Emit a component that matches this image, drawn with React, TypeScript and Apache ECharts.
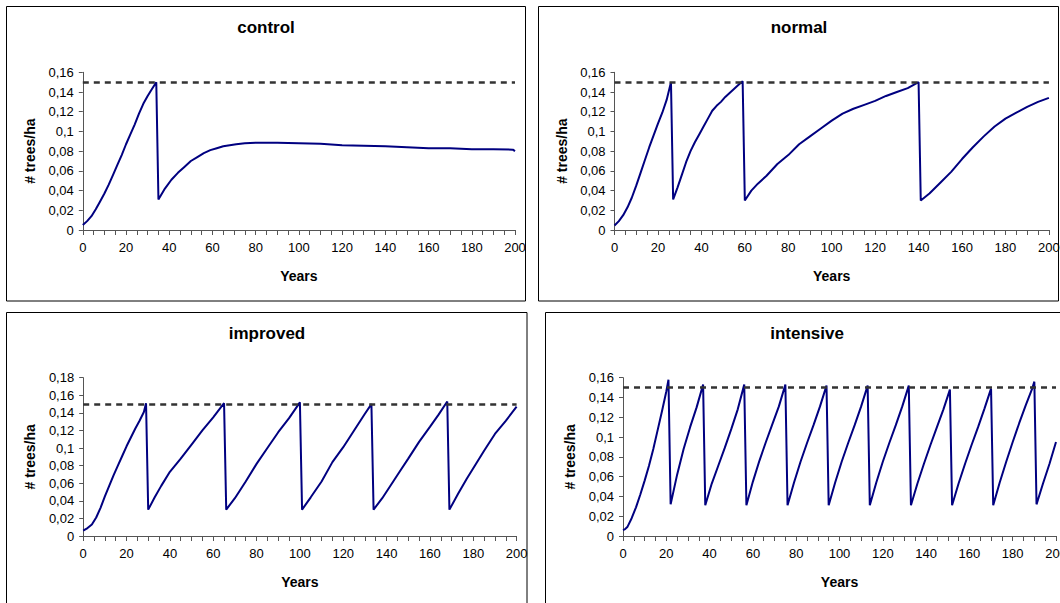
import React, { useEffect, useRef } from 'react';
import * as echarts from 'echarts';

const panelTitles = ['control', 'normal', 'improved', 'intensive'];
const yMaxima = [0.16, 0.16, 0.18, 0.16];
const threshold = 0.15;
const xAxisTitle = 'Years';
const yAxisTitle = '# trees/ha';

const controlYears = [0, 2, 4, 6, 8, 10, 12, 14, 16, 18, 20, 22, 24, 26, 28, 30, 32, 34, 35, 38, 41, 44, 47, 50, 53, 56, 59, 62, 65, 68, 71, 75, 80, 90, 100, 110, 120, 130, 140, 150, 160, 170, 180, 190, 199, 200];
const controlValues = [0.005, 0.009, 0.014, 0.021, 0.029, 0.037, 0.046, 0.056, 0.066, 0.076, 0.087, 0.097, 0.107, 0.118, 0.128, 0.136, 0.143, 0.15, 0.031, 0.042, 0.051, 0.058, 0.064, 0.07, 0.074, 0.078, 0.081, 0.083, 0.085, 0.086, 0.087, 0.088, 0.0885, 0.0885, 0.088, 0.0875, 0.086, 0.0855, 0.085, 0.084, 0.083, 0.083, 0.082, 0.082, 0.0815, 0.08];

const normalYears = [0, 2, 4, 6, 8, 10, 12, 14, 16, 18, 20, 22, 24, 26, 27, 29, 31, 33, 35, 37, 39, 41, 43, 45, 47, 49, 51, 53, 55, 57, 59, 60, 63, 66, 70, 75, 80, 85, 90, 95, 100, 105, 110, 115, 120, 125, 130, 135, 140, 141, 145, 150, 155, 160, 165, 170, 175, 180, 185, 190, 195, 200];
const normalValues = [0.0045, 0.009, 0.015, 0.023, 0.033, 0.045, 0.058, 0.071, 0.084, 0.096, 0.108, 0.119, 0.132, 0.15, 0.031, 0.043, 0.056, 0.069, 0.08, 0.089, 0.097, 0.105, 0.113, 0.121, 0.126, 0.13, 0.135, 0.139, 0.143, 0.147, 0.151, 0.03, 0.04, 0.047, 0.055, 0.067, 0.076, 0.087, 0.095, 0.103, 0.111, 0.118, 0.123, 0.127, 0.131, 0.136, 0.14, 0.144, 0.15, 0.03, 0.037, 0.048, 0.059, 0.072, 0.084, 0.095, 0.105, 0.113, 0.119, 0.125, 0.13, 0.134];

const improvedYears = [0, 2, 4, 6, 8, 10, 12, 14, 16, 18, 20, 22, 24, 26, 28, 29, 30, 33, 36, 40, 45, 50, 55, 60, 65, 66, 70, 75, 80, 85, 90, 95, 100, 101, 105, 110, 115, 120, 125, 130, 133, 134, 138, 142, 146, 150, 155, 160, 164, 168, 169, 173, 177, 181, 185, 190, 195, 200];
const improvedValues = [0.006, 0.009, 0.013, 0.021, 0.032, 0.045, 0.057, 0.069, 0.08, 0.091, 0.102, 0.112, 0.122, 0.131, 0.141, 0.151, 0.03, 0.044, 0.057, 0.073, 0.088, 0.104, 0.12, 0.135, 0.151, 0.03, 0.043, 0.062, 0.082, 0.1, 0.118, 0.134, 0.152, 0.03, 0.044, 0.062, 0.084, 0.101, 0.12, 0.139, 0.15, 0.03, 0.043, 0.058, 0.073, 0.088, 0.107, 0.124, 0.138, 0.153, 0.03, 0.048, 0.065, 0.081, 0.097, 0.116, 0.131, 0.147];

const intensiveYears = [0, 1, 2, 4, 6, 8, 10, 12, 14, 16, 18, 20, 21, 22, 25, 28, 31, 34, 37, 38, 41, 44, 47, 50, 53, 56, 57, 60, 63, 66, 69, 72, 75, 76, 79, 82, 85, 88, 91, 94, 95, 98, 101, 104, 107, 110, 113, 114, 117, 120, 123, 126, 129, 132, 133, 136, 139, 142, 145, 148, 151, 152, 155, 158, 161, 164, 167, 170, 171, 174, 177, 180, 183, 186, 189, 190, 191, 194, 197, 200];
const intensiveValues = [0.006, 0.007, 0.009, 0.018, 0.029, 0.042, 0.056, 0.071, 0.088, 0.107, 0.126, 0.146, 0.158, 0.032, 0.062, 0.088, 0.11, 0.13, 0.153, 0.031, 0.053, 0.071, 0.089, 0.108, 0.128, 0.153, 0.031, 0.055, 0.076, 0.095, 0.113, 0.131, 0.153, 0.031, 0.054, 0.075, 0.094, 0.112, 0.131, 0.152, 0.031, 0.054, 0.075, 0.094, 0.112, 0.131, 0.152, 0.031, 0.054, 0.075, 0.094, 0.112, 0.131, 0.152, 0.031, 0.053, 0.073, 0.092, 0.11, 0.128, 0.148, 0.031, 0.053, 0.073, 0.092, 0.11, 0.129, 0.149, 0.031, 0.054, 0.075, 0.095, 0.114, 0.132, 0.149, 0.156, 0.032, 0.053, 0.073, 0.095];

const panelYears = [controlYears, normalYears, improvedYears, intensiveYears];
const panelValues = [controlValues, normalValues, improvedValues, intensiveValues];

// layout (pixels)
const grids = [
  { left: 82.8, top: 72.3, width: 432.2, height: 157.7 },
  { left: 614.5, top: 72.3, width: 434.4, height: 157.7 },
  { left: 83.2, top: 377.7, width: 433.4, height: 158.3 },
  { left: 623, top: 377.7, width: 433, height: 158.3 },
];
const titlePos = [
  { x: 266, y: 19 },
  { x: 799, y: 19 },
  { x: 267, y: 325 },
  { x: 807, y: 325 },
];
const boxes = [
  { x: 6.5, y: 6.5, w: 519, h: 294.5 },
  { x: 538.5, y: 6.5, w: 520, h: 294.5 },
  { x: 6.5, y: 312.5, w: 520.5, h: 400 },
  { x: 545.5, y: 312.5, w: 600, h: 400 },
];

const FONT = '"Liberation Sans", Arial, Helvetica, sans-serif';

const fmtY = (v: number) => (v === 0 ? '0' : String(+v.toFixed(2)).replace('.', ','));

export default function App() {
  const ref = useRef<HTMLDivElement>(null);
  useEffect(() => {
    if (!ref.current) return;
    const chart = echarts.init(ref.current, undefined, { renderer: 'svg' });
    const axisColor = '#555';
    const option: any = {
      animation: false,
      backgroundColor: '#fff',
      textStyle: { fontFamily: FONT },
      title: panelTitles.map((t, i) => ({
        text: t,
        left: titlePos[i].x,
        top: titlePos[i].y,
        textAlign: 'center',
        padding: 0,
        textStyle: { fontFamily: FONT, fontSize: 17, fontWeight: 'bold', color: '#000' },
      })),
      grid: grids.map((g) => ({ ...g, containLabel: false, outerBoundsMode: 'none' })),
      xAxis: grids.map((_, i) => ({
        type: 'value',
        gridIndex: i,
        min: 0,
        max: 200,
        interval: 20,
        name: xAxisTitle,
        nameLocation: 'middle',
        nameGap: 39,
        nameTextStyle: { fontFamily: FONT, fontSize: 14, fontWeight: 'bold', color: '#000' },
        axisLine: { show: true, onZero: false, lineStyle: { color: axisColor, width: 1 } },
        axisTick: { show: true, length: 5, lineStyle: { color: axisColor } },
        minorTick: { show: true, splitNumber: 4, length: 5, lineStyle: { color: axisColor } },
        splitLine: { show: false },
        minorSplitLine: { show: false },
        axisLabel: { margin: 11, fontFamily: FONT, fontSize: 13, color: '#000', showMaxLabel: true, hideOverlap: false },
      })),
      yAxis: grids.map((_, i) => ({
        type: 'value',
        gridIndex: i,
        min: 0,
        max: yMaxima[i],
        interval: 0.02,
        name: yAxisTitle,
        nameLocation: 'middle',
        nameGap: 46,
        nameRotate: 90,
        nameTextStyle: { fontFamily: FONT, fontSize: 14, fontWeight: 'bold', color: '#000' },
        axisLine: { show: true, lineStyle: { color: axisColor, width: 1 } },
        axisTick: { show: true, length: 4, lineStyle: { color: axisColor } },
        splitLine: { show: false },
        axisLabel: { margin: 9, fontFamily: FONT, fontSize: 13, color: '#000', formatter: fmtY },
      })),
      series: grids.map((_, i) => ({
        type: 'line',
        xAxisIndex: i,
        yAxisIndex: i,
        data: panelYears[i].map((y, k) => [y, panelValues[i][k]]),
        showSymbol: false,
        symbol: 'none',
        lineStyle: { color: '#000080', width: 2 },
        clip: false,
        markLine: {
          silent: true,
          symbol: ['none', 'none'],
          label: { show: false },
          lineStyle: { color: '#333', type: [6, 5], width: 2.5 },
          data: [{ yAxis: threshold }],
        },
        z: 3,
      })),
      graphic: boxes.map((b) => ({
        type: 'rect',
        shape: { x: b.x, y: b.y, width: b.w, height: b.h },
        style: { fill: 'none', stroke: '#000', lineWidth: 1 },
        silent: true,
        z: -1,
      })),
    };
    chart.setOption(option);
    return () => chart.dispose();
  }, []);
  return (
    <div
      ref={ref}
      style={{ position: 'fixed', left: 0, top: 0, width: 1060, height: 603, background: '#fff' }}
    />
  );
}
